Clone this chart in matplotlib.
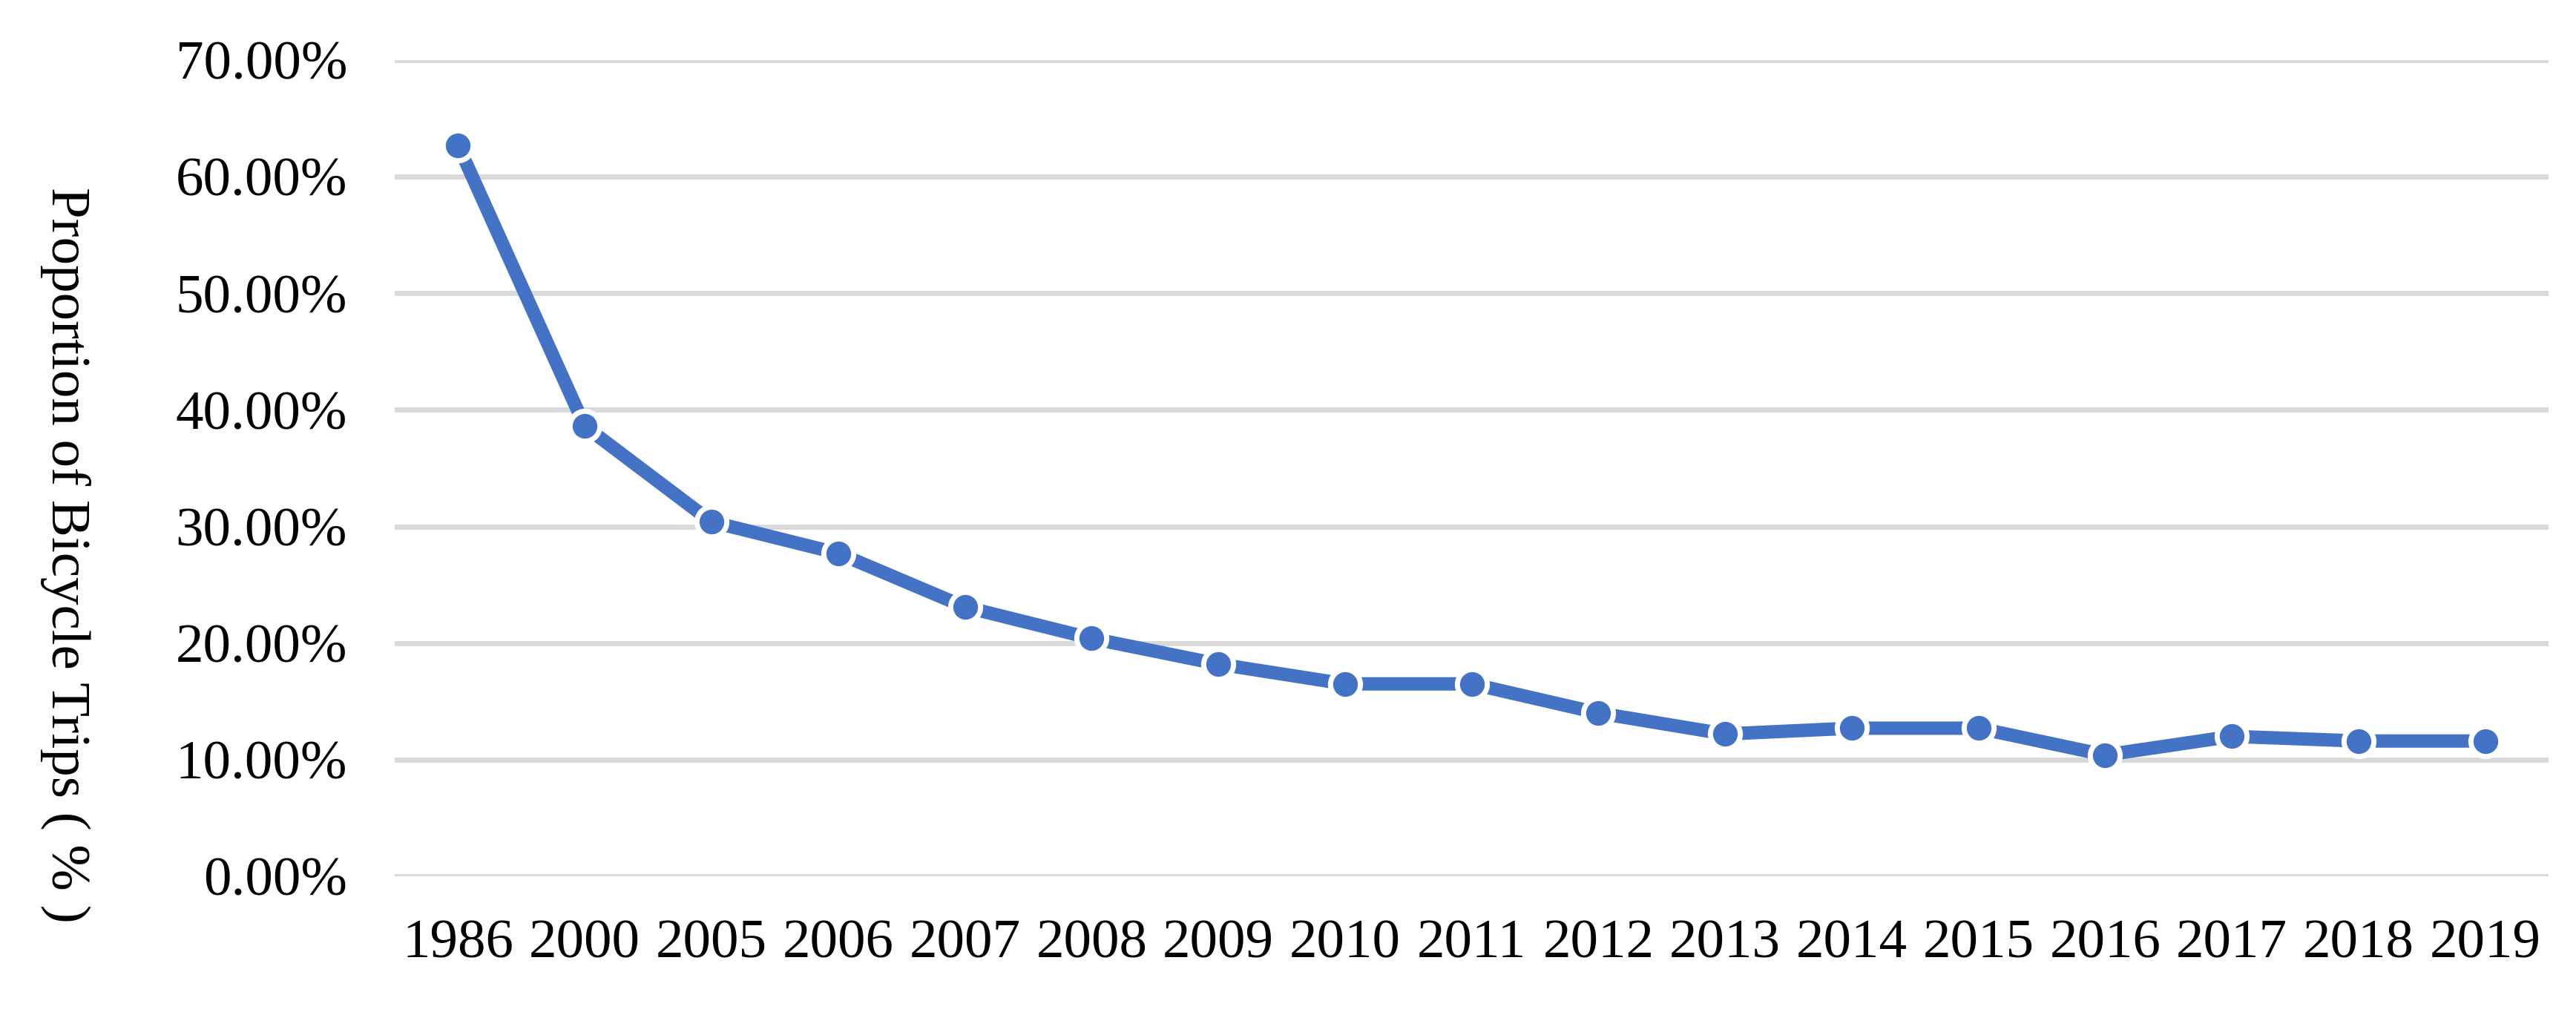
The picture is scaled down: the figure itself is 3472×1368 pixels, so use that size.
import numpy as np
import matplotlib.pyplot as plt

anos = ['1986', '2000', '2005', '2006', '2007', '2008', '2009', '2010', '2011',
        '2012', '2013', '2014', '2015', '2016', '2017', '2018', '2019']
proporcao = [62.7, 38.6, 30.4, 27.7, 23.1, 20.4, 18.2, 16.5, 16.5,
             14.0, 12.2, 12.7, 12.7, 10.4, 12.0, 11.6, 11.6]
ticks_y = [0, 10, 20, 30, 40, 50, 60, 70]

plt.rcParams['font.family'] = ['Liberation Serif', 'DejaVu Serif']

fig = plt.figure(figsize=(34.73, 13.68), dpi=100)
ax = fig.add_axes([0.1532, 0.1367, 0.9891 - 0.1532, 0.9408 - 0.1367])

x = np.arange(len(anos))
ax.plot(x, proporcao, color='#4472C4', linewidth=13, marker='o',
        markersize=29, markerfacecolor='#4472C4', markeredgecolor='white',
        markeredgewidth=5, zorder=3)

ax.set_xlim(-0.5, len(anos) - 0.5)
ax.set_ylim(0, 70)
ax.set_yticks(ticks_y)
ax.set_yticklabels(['{:.2f}%'.format(v) for v in ticks_y])
ax.set_xticks(x)
ax.set_xticklabels(anos)
ax.tick_params(axis='both', length=0, labelsize=54)
ax.tick_params(axis='y', pad=46)
ax.tick_params(axis='x', pad=42)

ax.grid(axis='y', color='#D9D9D9', linewidth=5)
ax.set_axisbelow(True)
for s in ax.spines.values():
    s.set_visible(False)

fig.text(88 / 3473, 1 - 748 / 1368, 'Proportion of Bicycle Trips ( % )',
         rotation=-90, ha='center', va='center', fontsize=54)

fig.savefig('out.png', dpi=100)
